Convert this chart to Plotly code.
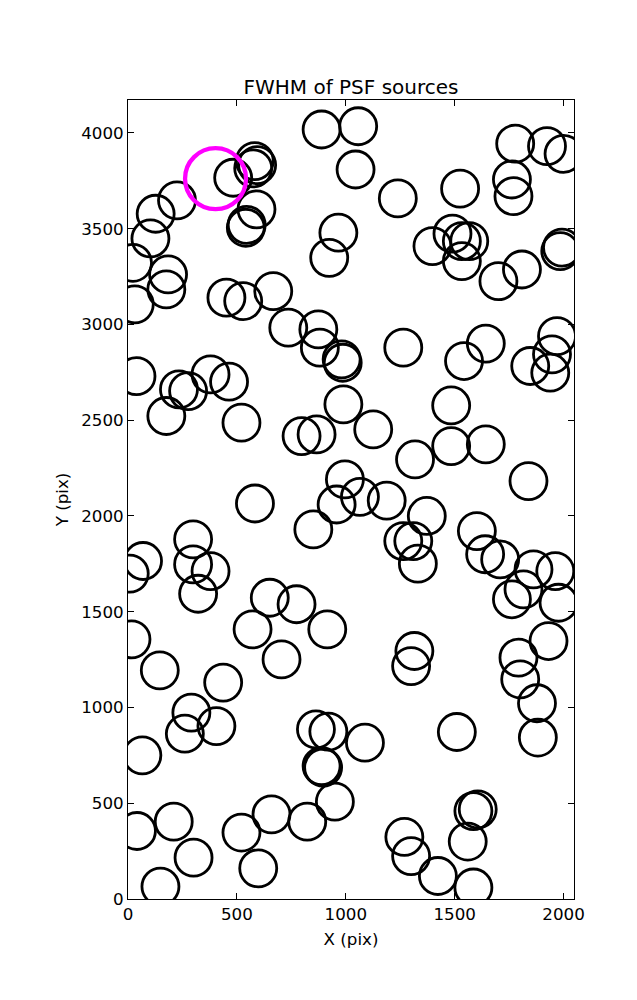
import plotly.graph_objects as go

# Source positions (pix)
src_x = [889, 582, 593, 575, 483, 590, 541, 545, 225, 127, 103, 23, 184, 176, 31, 452, 529, 667, 924, 966,
         1057, 1045, 1239, 1525, 1778, 1924, 2000, 1763, 1770, 1398, 1490, 1533, 1567, 1533, 1701, 1809, 1985, 1993,
         736, 874, 881, 981, 986, 989, 39, 234, 276, 379, 464, 176, 521, 797, 866, 996, 958, 583,
         1264, 1543, 1643, 1847, 1947, 1970, 1939, 1484, 1126, 1318, 1484, 1643, 1839, 1065, 1188, 1372,
         1264, 1310, 1331, 1602, 1640, 1709, 1862, 1962, 1816, 1763, 1977, 1931, 1793, 1801, 1878, 1315, 1300,
         851, 299, 69, 8, 299, 379, 322, 651, 774, 572, 915, 705, 16, 146, 437,
         291, 261, 406, 66, 863, 920, 889, 896, 950, 823, 659, 521, 598, 41, 210, 301, 149,
         1882, 1510, 1088, 1586, 1606, 1560, 1269, 1300, 1423, 1586]
src_y = [4018, 3853, 3832, 3815, 3766, 3601, 3505, 3520, 3648, 3578, 3449, 3322, 3261, 3183, 3105, 3140, 3122, 3174, 3348, 3479,
         4035, 3809, 3658, 3709, 3944, 3931, 3891, 3757, 3670, 3409, 3474, 3435, 3435, 3331, 3226, 3287, 3383, 3401,
         2983, 2974, 2879, 2818, 2800, 2583, 2730, 2661, 2652, 2739, 2701, 2522, 2487, 2417, 2426, 2191, 2060, 2065,
         2879, 2809, 2900, 2783, 2844, 2939, 2748, 2577, 2452, 2295, 2365, 2374, 2182, 2100, 2080, 2000,
         1869, 1869, 1751, 1921, 1800, 1773, 1721, 1712, 1617, 1565, 1547, 1347, 1260, 1147, 1022, 1295, 1216,
         1930, 1878, 1765, 1699, 1747, 1712, 1594, 1573, 1539, 1408, 1408, 1251, 1356, 1194, 1130,
         973, 863, 903, 750, 886, 874, 694, 686, 508, 404, 442, 347, 160, 355, 404, 216, 65,
         843, 872, 816, 459, 468, 300, 324, 224, 120, 60]

# Highlighted source
best_x = [402]
best_y = [3761]

x_ticks = [0, 500, 1000, 1500, 2000]
y_ticks = [0, 500, 1000, 1500, 2000, 2500, 3000, 3500, 4000]

FONT = "DejaVu Sans"

fig = go.Figure()
fig.add_trace(go.Scatter(
    x=src_x, y=src_y, mode="markers",
    marker=dict(symbol="circle", size=37, color="rgba(0,0,0,0)",
                line=dict(color="black", width=2.8)),
    hoverinfo="skip", showlegend=False))
fig.add_trace(go.Scatter(
    x=best_x, y=best_y, mode="markers",
    marker=dict(symbol="circle", size=61, color="rgba(0,0,0,0)",
                line=dict(color="#ff00ff", width=4.3)),
    hoverinfo="skip", showlegend=False))

axis_common = dict(
    showgrid=False, zeroline=False, showline=True, linecolor="black", linewidth=1,
    mirror="ticks", ticks="inside", ticklen=6, tickwidth=1, tickcolor="black",
    tickfont=dict(family=FONT, size=16.7, color="black"),
)

fig.update_layout(
    width=629, height=992,
    margin=dict(l=120, r=63, t=92, b=101),
    paper_bgcolor="white", plot_bgcolor="white",
    font=dict(family=FONT, color="black"),
    title=dict(text="FWHM of PSF sources", x=0.5, xref="paper", xanchor="center",
               y=0.9204, yref="container", yanchor="middle",
               font=dict(family=FONT, size=20, color="black")),
    xaxis=dict(range=[0, 2048], tickvals=x_ticks, ticktext=[str(v) for v in x_ticks],
               title=dict(text="X (pix)", font=dict(family=FONT, size=16.7), standoff=10),
               **axis_common),
    yaxis=dict(range=[0, 4172], tickvals=y_ticks, ticktext=[str(v) for v in y_ticks],
               title=dict(text="Y (pix)", font=dict(family=FONT, size=16.7), standoff=8),
               **axis_common),
)

fig.write_html("out.html")
